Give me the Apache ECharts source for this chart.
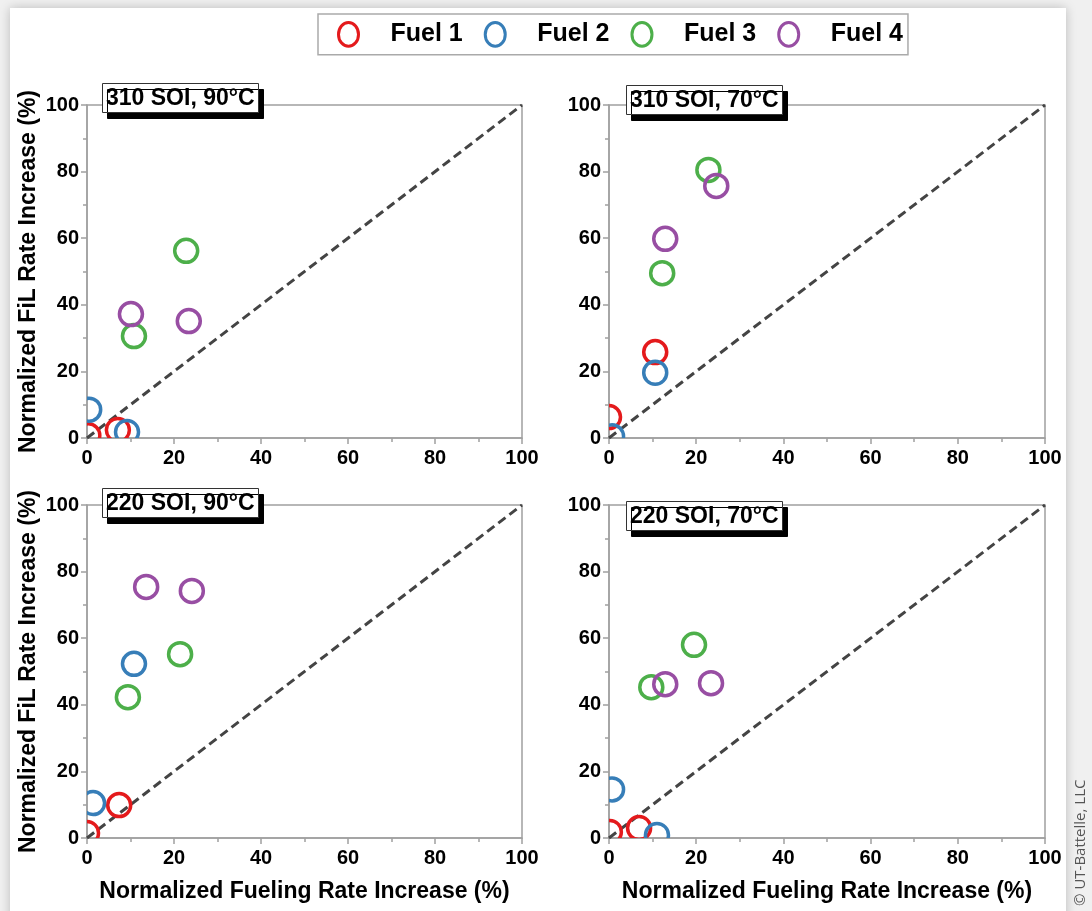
<!DOCTYPE html>
<html>
<head>
<meta charset="utf-8">
<script src="https://cdn.jsdelivr.net/npm/echarts@6/dist/echarts.min.js"></script>
<style>
html,body{margin:0;padding:0;background:#f0f0f0;}
#chart{width:1092px;height:911px;}
</style>
</head>
<body>
<div id="chart"></div>
<script>
// ---- Data ----
const fuelNames = ['Fuel 1', 'Fuel 2', 'Fuel 3', 'Fuel 4'];
const panelTitles = ['310 SOI, 90\u00B0C', '310 SOI, 70\u00B0C', '220 SOI, 90\u00B0C', '220 SOI, 70\u00B0C'];
const xAxisName = 'Normalized Fueling Rate Increase (%)';
const yAxisName = 'Normalized FiL Rate Increase (%)';

// 310 SOI, 90°C
const f1_310_90 = [[0.3, 0.8], [7.1, 2.4]];
const f2_310_90 = [[0.5, 8.5], [9.2, 1.8]];
const f3_310_90 = [[10.8, 30.6], [22.8, 56.2]];
const f4_310_90 = [[10.1, 37.2], [23.4, 35.1]];
// 310 SOI, 70°C
const f1_310_70 = [[0.0, 6.3], [10.6, 25.8]];
const f2_310_70 = [[0.7, 0.5], [10.6, 19.6]];
const f3_310_70 = [[12.2, 49.5], [22.8, 80.5]];
const f4_310_70 = [[12.9, 59.8], [24.6, 75.7]];
// 220 SOI, 90°C
const f1_220_90 = [[0.0, 1.5], [7.4, 9.9]];
const f2_220_90 = [[1.4, 10.5], [10.8, 52.3]];
const f3_220_90 = [[9.4, 42.3], [21.4, 55.2]];
const f4_220_90 = [[13.6, 75.4], [24.1, 74.2]];
// 220 SOI, 70°C
const f1_220_70 = [[0.2, 1.8], [6.9, 3.0]];
const f2_220_70 = [[0.7, 14.6], [11.0, 0.9]];
const f3_220_70 = [[9.7, 45.3], [19.5, 58.0]];
const f4_220_70 = [[12.9, 46.2], [23.4, 46.5]];

const parityLine = [[0, 0], [100, 100]];

// ---- Styling / layout ----
const colors = ['#e41a1c', '#377eb8', '#4daf4a', '#984ea3'];
const FONT = 'Arial, "Liberation Sans", sans-serif';
const panels = [
  [f1_310_90, f2_310_90, f3_310_90, f4_310_90],
  [f1_310_70, f2_310_70, f3_310_70, f4_310_70],
  [f1_220_90, f2_220_90, f3_220_90, f4_220_90],
  [f1_220_70, f2_220_70, f3_220_70, f4_220_70]
];
const grids = [
  {left: 87, top: 105, width: 435, height: 333},
  {left: 609, top: 105, width: 436, height: 333},
  {left: 87, top: 505, width: 435, height: 333},
  {left: 609, top: 505, width: 436, height: 333}
];
const titlePos = [[102, 83], [626, 85], [102, 488], [626, 501]];

const axisLineStyle = {color: '#a0a0a0', width: 1.5};
function makeX(i) {
  const bottom = i >= 2;
  return {
    type: 'value', gridIndex: i, min: 0, max: 100, interval: 20,
    axisLine: {show: true, onZero: false, lineStyle: axisLineStyle},
    axisTick: {show: true, length: 6, lineStyle: axisLineStyle},
    minorTick: {show: true, splitNumber: 2, length: 4, lineStyle: axisLineStyle},
    splitLine: {show: false},
    axisLabel: {color: '#000', fontWeight: 'bold', fontSize: 20, fontFamily: FONT, margin: 10},
    name: bottom ? xAxisName : '',
    nameLocation: 'middle', nameGap: 42,
    nameTextStyle: {color: '#000', fontWeight: 'bold', fontSize: 23, fontFamily: FONT}
  };
}
function makeY(i) {
  const left = i % 2 === 0;
  return {
    type: 'value', gridIndex: i, min: 0, max: 100, interval: 20,
    axisLine: {show: true, onZero: false, lineStyle: axisLineStyle},
    axisTick: {show: true, length: 6, lineStyle: axisLineStyle},
    minorTick: {show: true, splitNumber: 2, length: 4, lineStyle: axisLineStyle},
    splitLine: {show: false},
    axisLabel: {color: '#000', fontWeight: 'bold', fontSize: 20, fontFamily: FONT, margin: 8},
    name: left ? yAxisName : '',
    nameLocation: 'middle', nameGap: 47,
    nameTextStyle: {color: '#000', fontWeight: 'bold', fontSize: 23, fontFamily: FONT}
  };
}

function ringRenderer(color) {
  return function (params, api) {
    const p = api.coord([api.value(0), api.value(1)]);
    return {
      type: 'circle',
      shape: {cx: p[0], cy: p[1], r: 11.5},
      style: {fill: 'none', stroke: color, lineWidth: 3.5}
    };
  };
}

const series = [];
panels.forEach((panel, i) => {
  series.push({
    type: 'line', xAxisIndex: i, yAxisIndex: i, data: parityLine,
    symbol: 'none', silent: true, z: 1,
    lineStyle: {color: '#444', width: 3, type: [9, 5]}
  });
  panel.forEach((pts, k) => {
    series.push({
      name: fuelNames[k], type: 'custom', xAxisIndex: i, yAxisIndex: i,
      data: pts, encode: {x: 0, y: 1}, clip: true, z: 3,
      itemStyle: {color: colors[k]},
      renderItem: ringRenderer(colors[k])
    });
  });
});

// slightly tall ring icon (width:height = 20:24) for the legend
const ellipsePath = 'path://M42,0 A42,50 0 1,1 42,100 A42,50 0 1,1 42,0 Z';

const option = {
  backgroundColor: '#f0f0f0',
  animation: false,
  color: colors,
  graphic: [
    {type: 'rect', z: -100, shape: {x: 10, y: 8, width: 1056, height: 930},
     style: {fill: '#ffffff', shadowBlur: 10, shadowColor: 'rgba(0,0,0,0.22)'}},
    {type: 'text', z: 100, x: 1081, y: 906, rotation: Math.PI / 2,
     style: {text: '\u00A9 UT-Battelle, LLC', fill: '#555', font: '15px "Open Sans", sans-serif',
             align: 'left', verticalAlign: 'middle'}}
  ],
  title: panelTitles.map((t, i) => ({
    text: t, left: titlePos[i][0], top: titlePos[i][1],
    padding: [4, 4, 3, 4],
    backgroundColor: '#fff', borderColor: '#333', borderWidth: 1,
    shadowColor: '#000', shadowOffsetX: 5, shadowOffsetY: 6, shadowBlur: 0,
    textStyle: {color: '#000', fontWeight: 'bold', fontSize: 23, fontFamily: FONT}
  })),
  legend: {
    left: 318, top: 14,
    padding: [7, 5, 7, 19],
    itemGap: 21, itemWidth: 20, itemHeight: 24,
    backgroundColor: '#fff', borderColor: '#aaa', borderWidth: 1.5,
    textStyle: {color: '#000', fontWeight: 'bold', fontSize: 25, fontFamily: FONT, padding: [2, 0, 0, 27]},
    data: fuelNames.map((n, k) => ({
      name: n, icon: ellipsePath,
      itemStyle: {color: 'rgba(255,255,255,0)', borderColor: colors[k], borderWidth: 3}
    }))
  },
  grid: grids.map(g => Object.assign({show: true, borderColor: '#a0a0a0', borderWidth: 1.5, backgroundColor: 'transparent'}, g)),
  xAxis: grids.map((g, i) => makeX(i)),
  yAxis: grids.map((g, i) => makeY(i)),
  series: series
};

const chart = echarts.init(document.getElementById('chart'), null, {renderer: 'canvas'});
chart.setOption(option);
</script>
</body>
</html>
